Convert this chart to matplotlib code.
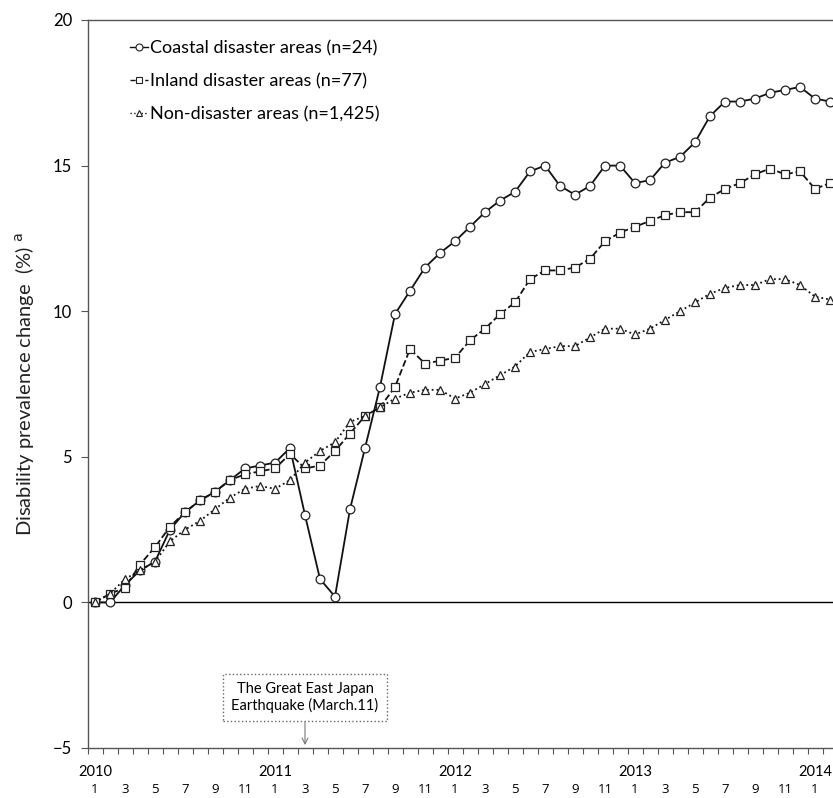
import numpy as np
import matplotlib
matplotlib.use("Agg")
import matplotlib.pyplot as plt
from matplotlib.lines import Line2D

plt.rcParams['font.family'] = ['Lato', 'DejaVu Sans']

# monthly values, Jan 2010 .. Feb 2014
coastal = [0.0, 0.0, 0.6, 1.1, 1.4, 2.5, 3.1, 3.5, 3.8, 4.2, 4.6, 4.7,
           4.8, 5.3, 3.0, 0.8, 0.2, 3.2, 5.3, 7.4, 9.9, 10.7, 11.5, 12.0,
           12.4, 12.9, 13.4, 13.8, 14.1, 14.8, 15.0, 14.3, 14.0, 14.3, 15.0, 15.0,
           14.4, 14.5, 15.1, 15.3, 15.8, 16.7, 17.2, 17.2, 17.3, 17.5, 17.6, 17.7,
           17.3, 17.2]
inland = [0.0, 0.3, 0.5, 1.3, 1.9, 2.6, 3.1, 3.5, 3.8, 4.2, 4.4, 4.5,
          4.6, 5.1, 4.6, 4.7, 5.2, 5.8, 6.4, 6.7, 7.4, 8.7, 8.2, 8.3,
          8.4, 9.0, 9.4, 9.9, 10.3, 11.1, 11.4, 11.4, 11.5, 11.8, 12.4, 12.7,
          12.9, 13.1, 13.3, 13.4, 13.4, 13.9, 14.2, 14.4, 14.7, 14.9, 14.7, 14.8,
          14.2, 14.4]
non_disaster = [0.0, 0.3, 0.8, 1.1, 1.4, 2.1, 2.5, 2.8, 3.2, 3.6, 3.9, 4.0,
                3.9, 4.2, 4.8, 5.2, 5.5, 6.2, 6.4, 6.7, 7.0, 7.2, 7.3, 7.3,
                7.0, 7.2, 7.5, 7.8, 8.1, 8.6, 8.7, 8.8, 8.8, 9.1, 9.4, 9.4,
                9.2, 9.4, 9.7, 10.0, 10.3, 10.6, 10.8, 10.9, 10.9, 11.1, 11.1, 10.9,
                10.5, 10.4]

labels = ['Coastal disaster areas (n=24)', 'Inland disaster areas (n=77)',
          'Non-disaster areas (n=1,425)']
years = ['2010', '2011', '2012', '2013', '2014']
month_labels = ['1', '3', '5', '7', '9', '11'] * 4 + ['1']

x = np.arange(len(coastal))

fig = plt.figure(figsize=(8.33, 7.98), dpi=100)
ax = fig.add_axes([87.5 / 833, 1 - 748 / 798, 1 - 87.5 / 833, 728 / 798])

styles = [('-', 'o'), ('--', 's'), (':', '^')]
series = [coastal, inland, non_disaster]
handles = []
for vals, (ls, mk), lab in zip(series, styles, labels):
    ax.plot(x, vals, linestyle=ls, color='#111111', lw=1.3, marker=mk,
            markersize=6.3, markerfacecolor='white', markeredgecolor='#222222',
            markeredgewidth=0.9, label=lab)
    handles.append(Line2D([0], [0], linestyle=ls, color='#111111', lw=1.0,
                          marker=mk, markersize=5, markerfacecolor='white',
                          markeredgecolor='#222222', markeredgewidth=0.8))

ax.axhline(0, color='black', lw=1.0, zorder=1)

ax.set_xlim(-0.5, 49.2)
ax.set_ylim(-5, 20)
ax.set_yticks([-5, 0, 5, 10, 15, 20])
ax.tick_params(axis='y', labelsize=12, length=5, width=0.8, color='#555555',
               pad=6)

ax.set_xticks(np.arange(0, 50, 2))
ax.set_xticklabels(month_labels, family='Open Sans')
ax.set_xticks(np.arange(-0.5, 49.5, 1), minor=True)
ax.tick_params(axis='x', which='major', length=0, labelsize=9.5, pad=25)
ax.tick_params(axis='x', which='minor', length=4, width=0.8, color='#555555')

for i, y in enumerate(years):
    ax.text(i * 12, -0.033, y, transform=ax.get_xaxis_transform(),
            ha='center', va='center', fontsize=10.5)

for s in ['left', 'bottom', 'top']:
    ax.spines[s].set_color('#555555')
    ax.spines[s].set_linewidth(1.0)
ax.spines['right'].set_visible(False)

ax.set_ylabel(r'Disability prevalence change  (%) $^{\mathrm{a}}$', fontsize=14.5,
              color='#222222', labelpad=12)

leg = ax.legend(handles, labels, loc='upper left', bbox_to_anchor=(0.035, 0.995),
                frameon=False, fontsize=13, handlelength=1.0, handletextpad=0.1,
                labelspacing=0.95)

# earthquake annotation
ax.annotate('The Great East Japan\nEarthquake (March.11)', xy=(14, -4.9),
            xytext=(14, -3.27), ha='center', va='center', fontsize=10.5,
            bbox=dict(boxstyle='square,pad=0.55', fc='white', ec='#666666',
                      ls=':', lw=1.0),
            arrowprops=dict(arrowstyle='->', color='#777777', lw=0.8,
                            shrinkA=0, shrinkB=0))

fig.savefig('out.png', dpi=100)
